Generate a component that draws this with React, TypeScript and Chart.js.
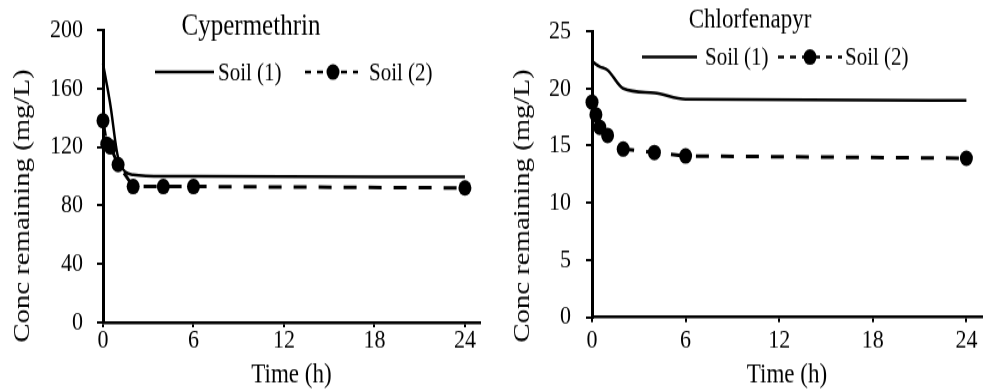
import { useEffect, useRef } from 'react';
import { Chart, registerables } from 'chart.js';

Chart.register(...registerables);

// ---- data ----
const TIMES = [0, 0.25, 0.5, 1, 2, 4, 6, 24];
const CYPER_SOIL1 = [177, 163, 148, 113, 101, 100, 100, 99.5];
const CYPER_SOIL2 = [138, 122, 120, 108, 93, 93, 93, 92];
const CHLOR_SOIL1 = [22.4, 22.1, 21.9, 21.6, 20.0, 19.6, 19.05, 18.95];
const CHLOR_SOIL2 = [18.8, 17.7, 16.6, 15.9, 14.7, 14.4, 14.1, 13.9];
const X_TICKS = [0, 6, 12, 18, 24];
const LEGEND_LABELS = ['Soil (1)', 'Soil (2)'];
const CHART_TITLES = ['Cypermethrin', 'Chlorfenapyr'];
const Y_TITLE = 'Conc remaining (mg/L)';
const X_TITLE = 'Time (h)';

const FONT = '"Liberation Serif", "Times New Roman", serif';
const H = 327; // internal canvas height
const S = 392 / H; // vertical stretch

type Panel = {
  left: number;
  width: number;
  area: { left: number; right: number; top: number; bottom: number };
  yMax: number;
  yStep: number;
  soil1: number[];
  soil2: number[];
  title: string;
  titleSize: number;
  titleX: number;
  titleY: number;
  legendY: number;
  line1: [number, number];
  text1X: number;
  line2: [number, number];
  marker2X: number;
  text2X: number;
  yTitleX: number;
  yTitleY: number;
  yTickPad: number;
  xTickPad: number;
  xTitlePad: number;
};

const PANELS: Panel[] = [
  {
    left: 0,
    width: 490,
    area: { left: 103, right: 480, top: 29 / S, bottom: 322.5 / S },
    yMax: 200,
    yStep: 40,
    soil1: CYPER_SOIL1,
    soil2: CYPER_SOIL2,
    title: CHART_TITLES[0],
    titleSize: 25,
    titleX: 251,
    titleY: 35 / S,
    legendY: 72 / S,
    line1: [155, 214],
    text1X: 218,
    line2: [305, 358],
    marker2X: 333,
    text2X: 369,
    yTitleX: 22.5,
    yTitleY: 206 / S,
    yTickPad: 14,
    xTickPad: 0,
    xTitlePad: 3,
  },
  {
    left: 490,
    width: 499,
    area: { left: 102, right: 492, top: 30 / S, bottom: 317.3 / S },
    yMax: 25,
    yStep: 5,
    soil1: CHLOR_SOIL1,
    soil2: CHLOR_SOIL2,
    title: CHART_TITLES[1],
    titleSize: 23,
    titleX: 260,
    titleY: 27 / S,
    legendY: 57 / S,
    line1: [152, 207],
    text1X: 215,
    line2: [288, 352],
    marker2X: 320,
    text2X: 355,
    yTitleX: 33,
    yTitleY: 206 / S,
    yTickPad: 15,
    xTickPad: 5,
    xTitlePad: 3,
  },
];

function makeDecor(p: Panel) {
  return {
    id: 'decor',
    afterDraw(chart: any) {
      const ctx = chart.ctx as CanvasRenderingContext2D;
      ctx.save();
      ctx.fillStyle = '#000';
      ctx.strokeStyle = '#000';
      // chart title
      ctx.font = `${p.titleSize}px ${FONT}`;
      ctx.textAlign = 'center';
      ctx.textBaseline = 'alphabetic';
      ctx.fillText(p.title, p.titleX, p.titleY);
      // legend
      ctx.font = `21px ${FONT}`;
      ctx.textAlign = 'left';
      ctx.textBaseline = 'middle';
      ctx.lineWidth = 2.5;
      ctx.setLineDash([]);
      ctx.beginPath();
      ctx.moveTo(p.line1[0], p.legendY);
      ctx.lineTo(p.line1[1], p.legendY);
      ctx.stroke();
      ctx.fillText(LEGEND_LABELS[0], p.text1X, p.legendY + 1);
      ctx.lineWidth = 2.5;
      ctx.setLineDash([6, 6]);
      ctx.beginPath();
      ctx.moveTo(p.line2[0], p.legendY);
      ctx.lineTo(p.line2[1], p.legendY);
      ctx.stroke();
      ctx.setLineDash([]);
      ctx.beginPath();
      ctx.arc(p.marker2X, p.legendY, 6.5, 0, Math.PI * 2);
      ctx.fill();
      ctx.fillText(LEGEND_LABELS[1], p.text2X, p.legendY + 1);
      // y axis title
      ctx.translate(p.yTitleX, p.yTitleY);
      ctx.rotate(-Math.PI / 2);
      ctx.font = `24px ${FONT}`;
      ctx.textAlign = 'center';
      ctx.textBaseline = 'middle';
      ctx.fillText(Y_TITLE, 0, 0);
      ctx.restore();
    },
  };
}

function PanelChart({ p }: { p: Panel }) {
  const ref = useRef<HTMLCanvasElement | null>(null);
  useEffect(() => {
    if (!ref.current) return;
    const a = p.area;
    const chart = new Chart(ref.current, {
      type: 'line',
      data: {
        datasets: [
          {
            label: LEGEND_LABELS[0],
            data: TIMES.map((t, i) => ({ x: t, y: p.soil1[i] })),
            borderColor: '#000',
            backgroundColor: '#000',
            borderWidth: 2.5,
            pointRadius: 0,
            cubicInterpolationMode: 'monotone',
            fill: false,
            clip: false,
          },
          {
            label: LEGEND_LABELS[1],
            data: TIMES.map((t, i) => ({ x: t, y: p.soil2[i] })),
            borderColor: '#000',
            backgroundColor: '#000',
            borderWidth: 3,
            borderDash: [13, 12],
            pointRadius: 6.5,
            pointBackgroundColor: '#000',
            pointBorderColor: '#000',
            pointBorderWidth: 0,
            tension: 0,
            fill: false,
            clip: false,
          },
        ],
      } as any,
      options: {
        responsive: false,
        animation: false,
        devicePixelRatio: 1,
        events: [],
        layout: { padding: { left: 0, right: p.width - a.right, top: a.top, bottom: 0 } },
        plugins: { legend: { display: false }, title: { display: false }, tooltip: { enabled: false } },
        scales: {
          x: {
            type: 'linear',
            min: 0,
            max: 25,
            afterFit: (s: any) => {
              s.height = H - a.bottom;
            },
            afterBuildTicks: (s: any) => {
              s.ticks = X_TICKS.map((v) => ({ value: v }));
            },
            ticks: {
              color: '#000',
              font: { family: FONT, size: 22, lineHeight: 1 },
              padding: p.xTickPad,
              maxRotation: 0,
              autoSkip: false,
            },
            grid: { drawOnChartArea: false, color: '#000', lineWidth: 2, tickLength: 4 },
            border: { color: '#000', width: 2.5 },
            title: {
              display: true,
              text: X_TITLE,
              color: '#000',
              font: { family: FONT, size: 23, lineHeight: 1 },
              padding: { top: 0, bottom: p.xTitlePad },
            },
          },
          y: {
            type: 'linear',
            min: 0,
            max: p.yMax,
            afterFit: (s: any) => {
              s.width = a.left;
            },
            ticks: {
              stepSize: p.yStep,
              color: '#000',
              font: { family: FONT, size: 22, lineHeight: 1 },
              padding: p.yTickPad,
            },
            grid: { drawOnChartArea: false, color: '#000', lineWidth: 2, tickLength: 6 },
            border: { color: '#000', width: 3 },
          },
        },
      } as any,
      plugins: [makeDecor(p)],
    });
    return () => chart.destroy();
  }, [p]);
  return (
    <canvas
      ref={ref}
      width={p.width}
      height={H}
      style={{ position: 'absolute', left: p.left, top: 0, width: `${p.width}px`, height: '392px', display: 'block' }}
    />
  );
}

export default function App() {
  return (
    <div style={{ position: 'absolute', left: 0, top: 0, width: 989, height: 392, background: '#fff', overflow: 'hidden' }}>
      {PANELS.map((p, i) => (
        <PanelChart key={i} p={p} />
      ))}
    </div>
  );
}
